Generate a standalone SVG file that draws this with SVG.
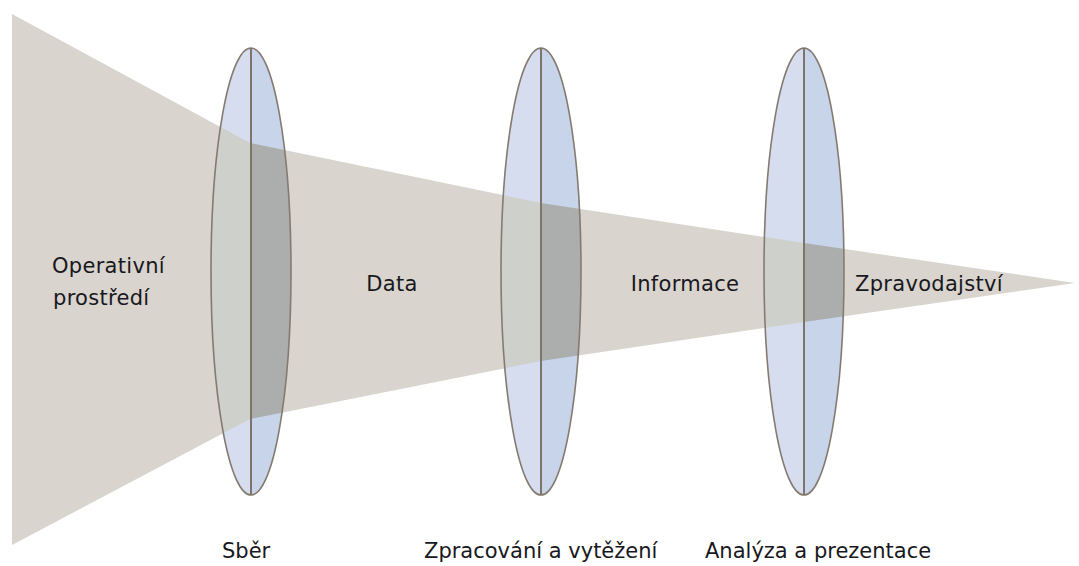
<svg xmlns="http://www.w3.org/2000/svg" width="1079" height="566" viewBox="0 0 1079 566">
  <defs>
    <style>
      .beam { fill: #d9d4ce; }
      .lensL { fill: #d6ddee; }
      .lensR { fill: #c8d4ea; }
      .ovL { fill: #cdd0cb; }
      .ovR { fill: #abaeac; }
      .outline { fill: none; stroke: #857a70; stroke-width: 1.6; }
      .axis { stroke: #7f7469; stroke-width: 2; }
      .lbl { font-family: "DejaVu Sans", Verdana, sans-serif; font-size: 21px; fill: #181820; }
      .sp { letter-spacing: 0.3px; }
    </style>
    <clipPath id="beamClip">
      <polygon points="12,14 250,143 541,203 804,243 1075,283 804,322 541,361 250,419 12,545"/>
    </clipPath>
  </defs>
  <rect width="1079" height="566" fill="#ffffff"/>

  <g id="beam">
    <polygon class="beam" points="12,14 250,143 541,203 804,243 1075,283 804,322 541,361 250,419 12,545"/>
  </g>

  <g id="lens1">
    <path class="lensL" d="M251,48 A40,223.5 0 0 0 251,495 Z"/>
    <path class="lensR" d="M251,48 A40,223.5 0 0 1 251,495 Z"/>
    <g clip-path="url(#beamClip)">
      <path class="ovL" d="M251,48 A40,223.5 0 0 0 251,495 Z"/>
      <path class="ovR" d="M251,48 A40,223.5 0 0 1 251,495 Z"/>
    </g>
    <ellipse class="outline" cx="251" cy="271.5" rx="40" ry="223.5"/>
    <line class="axis" x1="251" y1="48" x2="251" y2="495"/>
  </g>

  <g id="lens2">
    <path class="lensL" d="M541,48 A40,223.5 0 0 0 541,495 Z"/>
    <path class="lensR" d="M541,48 A40,223.5 0 0 1 541,495 Z"/>
    <g clip-path="url(#beamClip)">
      <path class="ovL" d="M541,48 A40,223.5 0 0 0 541,495 Z"/>
      <path class="ovR" d="M541,48 A40,223.5 0 0 1 541,495 Z"/>
    </g>
    <ellipse class="outline" cx="541" cy="271.5" rx="40" ry="223.5"/>
    <line class="axis" x1="541" y1="48" x2="541" y2="495"/>
  </g>

  <g id="lens3">
    <path class="lensL" d="M804,48 A40,223.5 0 0 0 804,495 Z"/>
    <path class="lensR" d="M804,48 A40,223.5 0 0 1 804,495 Z"/>
    <g clip-path="url(#beamClip)">
      <path class="ovL" d="M804,48 A40,223.5 0 0 0 804,495 Z"/>
      <path class="ovR" d="M804,48 A40,223.5 0 0 1 804,495 Z"/>
    </g>
    <ellipse class="outline" cx="804" cy="271.5" rx="40" ry="223.5"/>
    <line class="axis" x1="804" y1="48" x2="804" y2="495"/>
  </g>

  <g id="labels">
    <text class="lbl sp" x="52" y="273">Operativní</text>
    <text class="lbl sp" x="53" y="305">prostředí</text>
    <text class="lbl sp" x="392" y="291" text-anchor="middle">Data</text>
    <text class="lbl sp" x="685" y="291" text-anchor="middle">Informace</text>
    <text class="lbl sp" x="855" y="291">Zpravodajství</text>
    <text class="lbl" x="222" y="558">Sběr</text>
    <text class="lbl" x="424" y="558">Zpracování a vytěžení</text>
    <text class="lbl" x="705" y="558">Analýza a prezentace</text>
  </g>
</svg>
